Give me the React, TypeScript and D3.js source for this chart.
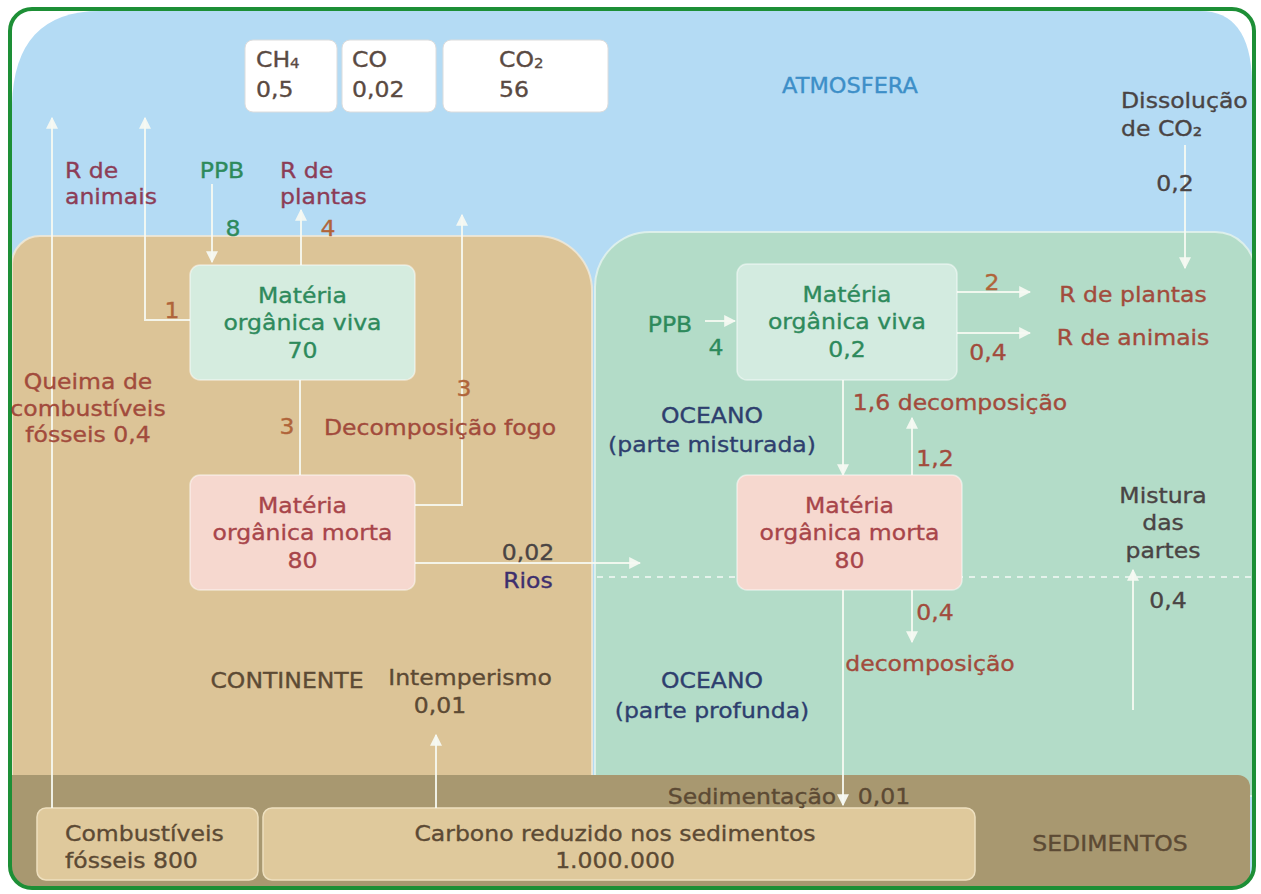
import React from 'react';
import * as d3 from 'd3';

const gases = [
    { formula: 'CH', sub: '4', amount: '0,5' },
    { formula: 'CO', sub: '', amount: '0,02' },
    { formula: 'CO', sub: '2', amount: '56' }
];

const landPools = [
    { name: ['Matéria', 'orgânica viva'], amount: '70' },
    { name: ['Matéria', 'orgânica morta'], amount: '80' }
];

const oceanPools = [
    { name: ['Matéria', 'orgânica viva'], amount: '0,2' },
    { name: ['Matéria', 'orgânica morta'], amount: '80' }
];

const sedimentPools = [
    { name: ['Combustíveis', 'fósseis'], amount: '800' },
    { name: ['Carbono reduzido nos sedimentos'], amount: '1.000.000' }
];

const landFlows = [
    { id: 'queima', label: ['Queima de', 'combustíveis', 'fósseis'], value: '0,4' },
    { id: 'rAnimais', label: ['R de', 'animais'], value: '1' },
    { id: 'ppb', label: ['PPB'], value: '8' },
    { id: 'rPlantas', label: ['R de', 'plantas'], value: '4' },
    { id: 'fogo', label: ['Decomposição fogo'], value: '3' },
    { id: 'morte', label: [], value: '3' },
    { id: 'rios', label: ['Rios'], value: '0,02' },
    { id: 'intemperismo', label: ['Intemperismo'], value: '0,01' }
];

const oceanFlows = [
    { id: 'dissolucao', label: ['Dissolução', 'de CO₂'], value: '0,2' },
    { id: 'ppbMar', label: ['PPB'], value: '4' },
    { id: 'rPlantasMar', label: ['R de plantas'], value: '2' },
    { id: 'rAnimaisMar', label: ['R de animais'], value: '0,4' },
    { id: 'decompMar', label: ['decomposição'], value: '1,6' },
    { id: 'retorno', label: [], value: '1,2' },
    { id: 'decompFundo', label: ['decomposição'], value: '0,4' },
    { id: 'mistura', label: ['Mistura', 'das', 'partes'], value: '0,4' },
    { id: 'sedimentacao', label: ['Sedimentação'], value: '0,01' }
];

const regions = [
    { id: 'atm', lines: ['ATMOSFERA'] },
    { id: 'cont', lines: ['CONTINENTE'] },
    { id: 'mar1', lines: ['OCEANO', '(parte misturada)'] },
    { id: 'mar2', lines: ['OCEANO', '(parte profunda)'] },
    { id: 'sed', lines: ['SEDIMENTOS'] }
];

// ---- layout ----
const FONT = '"DejaVu Sans", Verdana, sans-serif';
const STRETCH = 1.07;
const SIZE = 22;

const C = {
    green: '#2e8a5c',
    red: '#a24b3c',
    purple: '#8c3d57',
    orange: '#b0643a',
    dead: '#a8454a',
    dark: '#4a4444',
    navy: '#2e3f6e',
    rios: '#3e2f6e',
    brown: '#5c4a34',
    atm: '#3d8fc8',
    gas: '#5a4a42'
};

const gasBoxes = [
    { x: 245, w: 92, tx: 11 },
    { x: 342, w: 94, tx: 10 },
    { x: 443, w: 165, tx: 56 }
];

const landBoxes = [
    { x: 190, y: 265, w: 225, h: 115, fill: '#d5ecdf', color: C.green },
    { x: 190, y: 475, w: 225, h: 115, fill: '#f6d8cf', color: C.dead }
];
const oceanBoxes = [
    { x: 737, y: 264, w: 220, h: 116, fill: '#d3ebe0', color: C.green },
    { x: 737, y: 475, w: 225, h: 115, fill: '#f6d8cf', color: C.dead }
];
const sedBoxes = [
    { x: 37, y: 808, w: 221, h: 72, anchor: 'start', tx: 28 },
    { x: 263, y: 808, w: 712, h: 72, anchor: 'middle', tx: 352 }
];

const flowLayout = {
    queima: { path: [[52, 808], [52, 118]], lines: [[88, 381], [88, 408], [88, 434]], join: 'after', color: C.red },
    rAnimais: { path: [[190, 320], [145, 320], [145, 118]], lines: [[65, 170], [65, 196]], anchor: 'start', color: C.purple, val: [172, 310], valColor: C.orange },
    ppb: { path: [[212, 184], [212, 262]], lines: [[222, 170]], color: C.green, val: [233, 228], valColor: C.green },
    rPlantas: { path: [[301, 265], [301, 210]], lines: [[280, 170], [280, 196]], anchor: 'start', color: C.purple, val: [328, 228], valColor: C.orange },
    fogo: { path: [[415, 505], [462, 505], [462, 215]], lines: [[440, 427]], color: C.red, val: [464, 388], valColor: C.orange },
    morte: { path: [[300, 380], [300, 475]], noHead: true, lines: [], val: [287, 426], valColor: C.orange },
    rios: { path: [[415, 563], [640, 563]], lines: [[528, 580]], color: C.rios, val: [528, 552], valColor: C.dark },
    intemperismo: { path: [[436, 808], [436, 735]], lines: [[470, 677]], color: C.brown, val: [440, 705], valColor: C.brown },
    dissolucao: { path: [[1185, 145], [1185, 268]], lines: [[1121, 100], [1121, 128]], anchor: 'start', color: C.dark, val: [1175, 183], valColor: C.dark },
    ppbMar: { path: [[705, 321], [735, 321]], lines: [[670, 324]], color: C.green, val: [716, 347], valColor: C.green },
    rPlantasMar: { path: [[957, 292], [1030, 292]], lines: [[1133, 294]], color: C.red, val: [992, 282], valColor: C.orange },
    rAnimaisMar: { path: [[957, 333], [1030, 333]], lines: [[1133, 337]], color: C.red, val: [988, 352], valColor: C.red },
    decompMar: { path: [[843, 380], [843, 475]], lines: [[960, 402]], join: 'before', color: C.red },
    retorno: { path: [[912, 475], [912, 418]], lines: [], val: [935, 458], valColor: C.red },
    decompFundo: { path: [[912, 590], [912, 642]], lines: [[930, 663]], color: C.red, val: [935, 612], valColor: C.red },
    mistura: { path: [[1133, 710], [1133, 570]], lines: [[1163, 495], [1163, 522], [1163, 550]], color: C.dark, val: [1168, 600], valColor: C.dark },
    sedimentacao: { path: [[843, 590], [843, 805]], lines: [[752, 796]], color: C.brown, val: [884, 796], valColor: C.brown }
};

const regionLayout = {
    atm: { lines: [[850, 85]], color: C.atm, size: 21 },
    cont: { lines: [[287, 680]], color: C.brown, size: SIZE },
    mar1: { lines: [[712, 415], [712, 444]], color: C.navy, size: SIZE },
    mar2: { lines: [[712, 680], [712, 710]], color: C.navy, size: SIZE },
    sed: { lines: [[1110, 843]], color: C.brown, size: SIZE }
};

function roundRect(x, y, w, h, [tl, tr, br, bl]) {
    const p = d3.path();
    p.moveTo(x + tl, y);
    p.lineTo(x + w - tr, y);
    p.arcTo(x + w, y, x + w, y + tr, tr);
    p.lineTo(x + w, y + h - br);
    p.arcTo(x + w, y + h, x + w - br, y + h, br);
    p.lineTo(x + bl, y + h);
    p.arcTo(x, y + h, x, y + h - bl, bl);
    p.lineTo(x, y + tl);
    p.arcTo(x, y, x + tl, y, tl);
    p.closePath();
    return p.toString();
}

function atmospherePath() {
    const p = d3.path();
    p.moveTo(12, 888);
    p.lineTo(12, 105);
    p.quadraticCurveTo(14, 11, 100, 11);
    p.lineTo(1200, 11);
    p.quadraticCurveTo(1250, 11, 1252, 80);
    p.lineTo(1252, 888);
    p.closePath();
    return p.toString();
}

const line = d3.line();

const Txt = ({ x, y, color, size = SIZE, anchor = 'middle', children }) => (
    <g transform={`translate(${x},${y}) scale(${STRETCH},1)`}>
        <text textAnchor={anchor} dy="0.36em" fill={color} stroke={color} strokeWidth={0.35} fontSize={size} fontFamily={FONT}>
            {children}
        </text>
    </g>
);

const Flow = ({ flow }) => {
    const lay = flowLayout[flow.id];
    const n = flow.label.length;
    return (
        <g>
            <path
                d={line(lay.path)}
                fill="none"
                stroke="#f6f9f2"
                strokeOpacity={0.9}
                strokeWidth={2}
                markerEnd={lay.noHead ? undefined : 'url(#head)'}
            />
            {flow.label.map((t, i) => {
                let s = t;
                if (lay.join === 'after' && i === n - 1) s = `${t} ${flow.value}`;
                if (lay.join === 'before' && i === 0) s = `${flow.value} ${t}`;
                const [x, y] = lay.lines[i];
                return <Txt key={i} x={x} y={y} color={lay.color} anchor={lay.anchor || 'middle'}>{s}</Txt>;
            })}
            {lay.val && <Txt x={lay.val[0]} y={lay.val[1]} color={lay.valColor}>{flow.value}</Txt>}
        </g>
    );
};

const Pool = ({ pool, box }) => (
    <g>
        <path d={roundRect(box.x, box.y, box.w, box.h, [10, 10, 10, 10])} fill={box.fill} stroke="#ffffff" strokeOpacity={0.5} strokeWidth={1.5} />
        <Txt x={box.x + box.w / 2} y={box.y + 30} color={box.color}>{pool.name[0]}</Txt>
        <Txt x={box.x + box.w / 2} y={box.y + 57} color={box.color}>{pool.name[1]}</Txt>
        <Txt x={box.x + box.w / 2} y={box.y + 85} color={box.color}>{pool.amount}</Txt>
    </g>
);

const App = () => {
    const width = 1261;
    const height = 894;

    return (
        <svg width={width} height={height} style={{ position: 'absolute', left: 0, top: 0 }}>
            <defs>
                <clipPath id="frame">
                    <rect x={10} y={9} width={1244} height={879} rx={22} />
                </clipPath>
                <marker id="head" viewBox="0 0 10 10" refX={9} refY={5} markerUnits="userSpaceOnUse" markerWidth={12} markerHeight={12} orient="auto">
                    <path d="M0,0 L10,5 L0,10 Z" fill="#f6f9f2" fillOpacity={0.95} />
                </marker>
            </defs>

            <rect x={0} y={0} width={width} height={height} fill="#ffffff" />

            <g clipPath="url(#frame)">
                <path d={atmospherePath()} fill="#b4dbf4" />
                {/* continente */}
                <path d={roundRect(12, 236, 580, 560, [28, 55, 0, 0])} fill="#dcc497" stroke="#f3ead8" strokeOpacity={0.8} strokeWidth={2} />
                {/* oceano */}
                <path d={roundRect(595, 232, 660, 564, [55, 40, 0, 0])} fill="#b3dcc8" stroke="#e6f4ee" strokeOpacity={0.8} strokeWidth={2} />
                {/* divisão das partes do oceano */}
                <path d={line([[597, 577], [1252, 577]])} stroke="#f4faf7" strokeOpacity={0.75} strokeWidth={2} strokeDasharray="6 6" />
                {/* sedimentos */}
                <path d={roundRect(12, 775, 1238, 120, [0, 12, 0, 0])} fill="#a89870" />
            </g>

            <rect x={10} y={9} width={1244} height={879} rx={22} fill="none" stroke="#1d8f36" strokeWidth={4} />

            {/* gases da atmosfera */}
            {gases.map((g, i) => {
                const b = gasBoxes[i];
                return (
                    <g key={g.formula + i}>
                        <path d={roundRect(b.x, 40, b.w, 72, [8, 8, 8, 8])} fill="#ffffff" stroke="#dcdcdc" strokeWidth={1} />
                        <Txt x={b.x + b.tx} y={59} color={C.gas} anchor="start">
                            {g.formula}
                            {g.sub && <tspan fontSize={14} dy={1}>{g.sub}</tspan>}
                        </Txt>
                        <Txt x={b.x + b.tx} y={89} color={C.gas} anchor="start">{g.amount}</Txt>
                    </g>
                );
            })}

            {sedimentPools.map((s, i) => {
                const b = sedBoxes[i];
                const first = s.name[0];
                const second = s.name.length > 1 ? `${s.name[1]} ${s.amount}` : s.amount;
                return (
                    <g key={i}>
                        <path d={roundRect(b.x, b.y, b.w, b.h, [9, 9, 9, 9])} fill="#dfc99c" stroke="#eee0bf" strokeWidth={1.5} />
                        <Txt x={b.x + b.tx} y={833} color={C.brown} anchor={b.anchor}>{first}</Txt>
                        <Txt x={b.x + b.tx} y={860} color={C.brown} anchor={b.anchor}>{second}</Txt>
                    </g>
                );
            })}

            {[...landFlows, ...oceanFlows].map(f => <Flow key={f.id} flow={f} />)}

            {landPools.map((p, i) => <Pool key={'l' + i} pool={p} box={landBoxes[i]} />)}
            {oceanPools.map((p, i) => <Pool key={'o' + i} pool={p} box={oceanBoxes[i]} />)}

            {regions.map(r => {
                const lay = regionLayout[r.id];
                return r.lines.map((t, i) => (
                    <Txt key={r.id + i} x={lay.lines[i][0]} y={lay.lines[i][1]} color={lay.color} size={lay.size}>{t}</Txt>
                ));
            })}
        </svg>
    );
};

export default App;
